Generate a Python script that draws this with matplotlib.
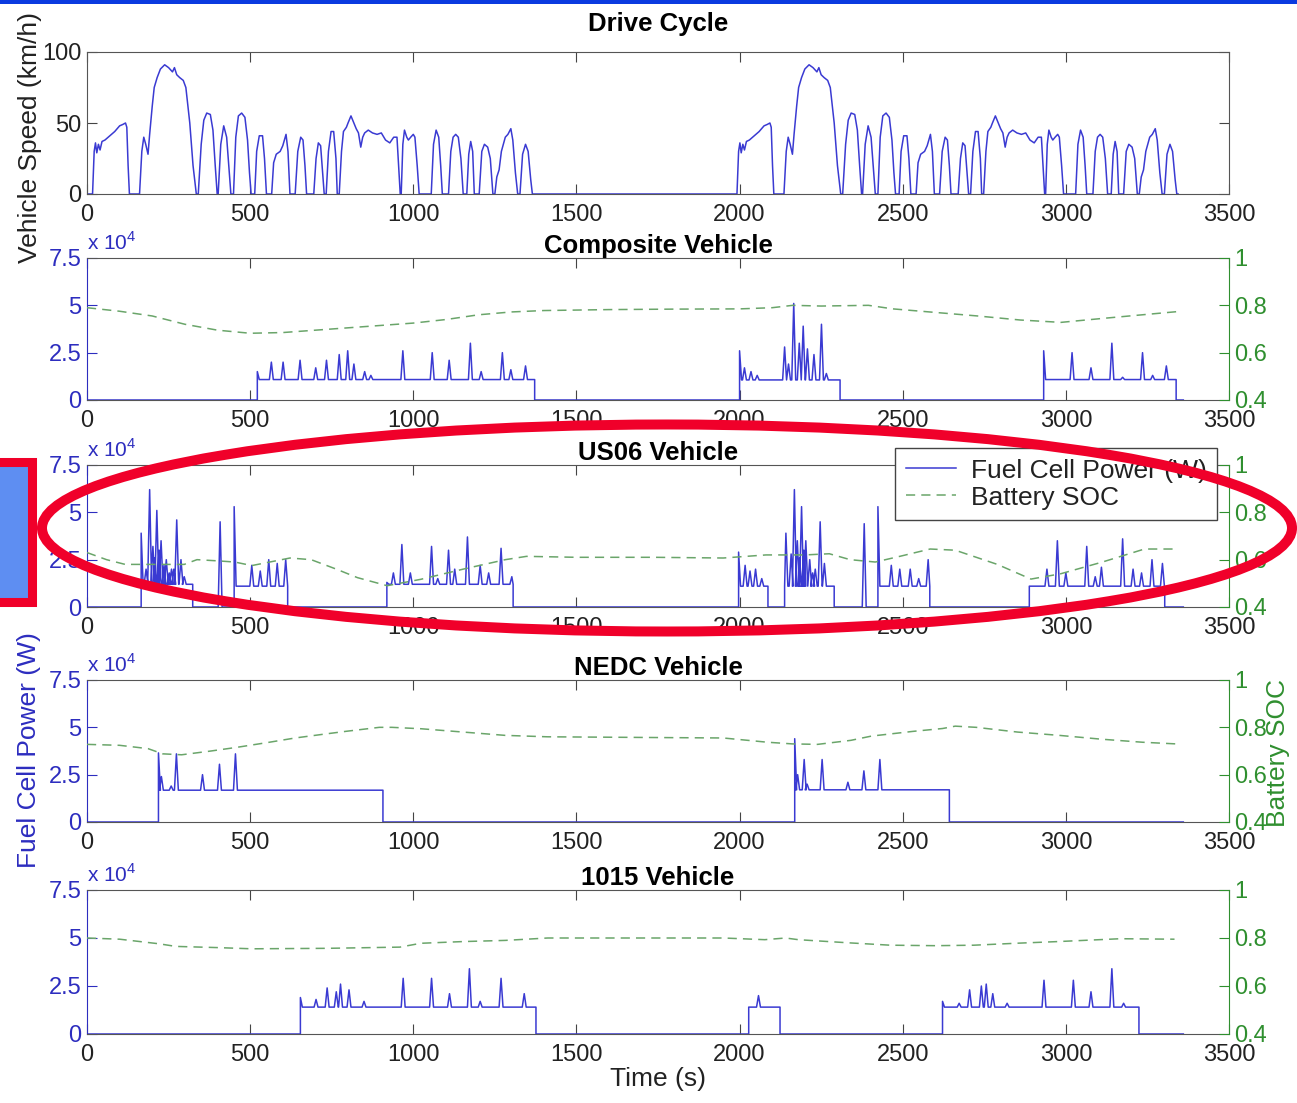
import matplotlib
matplotlib.use('Agg')
import matplotlib.pyplot as plt
from matplotlib.patches import Ellipse, Rectangle

plt.rcParams['font.family'] = ['Liberation Sans', 'DejaVu Sans']
plt.rcParams['mathtext.fontset'] = 'custom'
plt.rcParams['mathtext.rm'] = 'Liberation Sans'

# ---- drive cycle (one UDDS run, driven twice) ----
udds_t = [0, 17, 22, 26, 30, 35, 40, 46, 55, 70, 85, 100, 110, 118, 122, 126, 130,
          161, 168, 174, 180, 187, 192, 200, 206, 215, 225, 238, 250, 262, 268, 275, 284, 295, 303, 315, 325, 335,
          341, 350, 358, 367, 378, 386, 393, 399,
          402, 410, 419, 428, 436, 441,
          449, 456, 464, 474, 484, 492, 498, 503,
          514, 520, 528, 538, 544, 550,
          566, 572, 580, 592, 600, 610, 616, 622,
          638, 646, 655, 662, 668, 673,
          695, 702, 709, 716, 722, 727, 733, 740, 748, 756, 763, 767,
          773, 780, 786, 795, 800, 809, 818, 825, 832, 839, 845, 851, 862, 875, 889, 902, 915, 928, 940, 950, 955, 960,
          963, 968, 973, 980, 985, 992, 1000, 1005, 1012, 1018,
          1055, 1062, 1070, 1078, 1084, 1089,
          1108, 1115, 1122, 1130, 1138, 1146, 1153,
          1164, 1170, 1176, 1182, 1187,
          1202, 1210, 1218, 1228, 1236, 1244,
          1250, 1256, 1263, 1270, 1282, 1290, 1299, 1305, 1313, 1320,
          1327, 1335, 1344, 1352, 1360, 1365, 1369]
udds_v = [0, 0, 30, 36, 29, 35, 31, 37, 38, 41, 44, 48, 49, 50, 47, 20, 0,
          0, 30, 40, 35, 28, 42, 62, 75, 82, 88, 91, 89, 86, 89, 84, 82, 80, 75, 50, 20, 0,
          0, 35, 52, 57, 56, 45, 20, 0,
          0, 35, 48, 40, 15, 0,
          0, 40, 55, 57, 54, 38, 15, 0,
          0, 30, 41, 41, 25, 0,
          0, 22, 28, 30, 34, 42, 30, 0,
          0, 30, 40, 38, 20, 0,
          0, 25, 36, 34, 15, 0, 0, 30, 44, 44, 25, 0,
          0, 30, 44, 47, 50, 55, 50, 46, 43, 33, 40, 43, 45, 43, 42, 43, 38, 36, 40, 40, 20, 0,
          0, 35, 45, 40, 38, 40, 42, 40, 20, 0,
          0, 35, 45, 40, 20, 0,
          0, 30, 40, 42, 40, 25, 0,
          0, 28, 37, 30, 0,
          0, 30, 35, 33, 25, 0,
          0, 12, 17, 30, 40, 42, 46, 38, 15, 0,
          0, 28, 35, 30, 10, 0, 0]
second_run_start = 1975

# ---- fuel cell power (x 10^4 W): blocks (start, end, base level) and spikes (time, peak) ----
comp_blocks = [(522, 1372, 1.08), (2000, 2308, 1.06), (2932, 3338, 1.08)]
comp_spikes = [(522, 1.5), (565, 2.0), (601, 2.0), (653, 2.1), (701, 1.7), (734, 2.1), (773, 2.4),
               (799, 2.6), (818, 1.9), (851, 1.5), (870, 1.3), (968, 2.6), (1058, 2.5), (1110, 2.1),
               (1175, 3.0), (1208, 1.5), (1273, 2.5), (1299, 1.6), (1344, 1.8),
               (2000, 2.6), (2015, 1.7), (2035, 1.5), (2054, 1.3), (2138, 2.8), (2150, 1.9), (2166, 5.1),
               (2183, 3.0), (2195, 3.9), (2208, 2.7), (2228, 2.4), (2251, 4.0), (2266, 1.4),
               (2932, 2.6), (3019, 2.5), (3077, 1.7), (3141, 3.0), (3174, 1.2), (3235, 2.5), (3266, 1.3), (3308, 1.8)]

us06_blocks = [(166, 324, 1.2), (402, 414, 0.0), (451, 615, 1.1), (919, 1306, 1.2),
               (1997, 2087, 1.1), (2138, 2290, 1.1), (2376, 2388, 0.0), (2424, 2583, 1.1), (2888, 3303, 1.1)]
us06_spikes = [(166, 3.9), (181, 2.0), (192, 6.2), (202, 3.2), (208, 2.6), (214, 5.1), (221, 3.0), (227, 3.5),
               (236, 2.2), (243, 2.5), (252, 1.8), (259, 2.0), (266, 2.0), (275, 4.6), (288, 2.5), (298, 1.6),
               (408, 4.5), (451, 5.3), (505, 2.2), (531, 1.9), (557, 2.5), (583, 2.3), (609, 2.5),
               (919, 1.3), (939, 1.8), (965, 3.3), (991, 1.8), (1056, 3.2), (1075, 1.5), (1108, 3.0),
               (1127, 2.0), (1166, 3.7), (1205, 2.2), (1231, 1.8), (1269, 3.1), (1302, 1.6),
               (1997, 2.9), (2017, 2.2), (2032, 1.9), (2049, 2.0), (2068, 1.5),
               (2142, 3.9), (2158, 2.8), (2168, 6.2), (2177, 3.5), (2184, 2.6), (2190, 5.3), (2197, 3.0),
               (2203, 3.5), (2215, 2.5), (2224, 1.8), (2232, 2.0), (2247, 4.5), (2260, 2.3),
               (2382, 4.4), (2424, 5.3), (2465, 2.2), (2491, 2.0), (2523, 2.0), (2549, 1.5), (2578, 2.5),
               (2942, 2.0), (2974, 3.5), (3000, 1.8), (3064, 3.2), (3090, 1.6), (3109, 2.1), (3174, 3.6),
               (3206, 2.0), (3232, 1.8), (3264, 2.5), (3296, 2.3)]

nedc_blocks = [(219, 907, 1.68), (2169, 2643, 1.7)]
nedc_spikes = [(219, 3.65), (228, 2.4), (258, 1.9), (274, 3.6), (354, 2.5), (406, 3.05), (455, 3.6),
               (2169, 4.4), (2178, 2.5), (2198, 3.3), (2207, 2.0), (2253, 3.3), (2332, 2.1), (2381, 2.7), (2430, 3.3)]

j1015_blocks = [(654, 1376, 1.4), (2028, 2124, 1.4), (2622, 3224, 1.4)]
j1015_spikes = [(654, 1.9), (702, 1.8), (736, 2.4), (764, 2.2), (777, 2.6), (803, 2.3), (849, 1.7), (969, 2.9),
                (1056, 2.9), (1111, 2.1), (1172, 3.4), (1205, 1.7), (1269, 2.9), (1340, 2.1),
                (2058, 2.0),
                (2622, 1.7), (2673, 1.6), (2705, 2.3), (2741, 2.5), (2756, 2.6), (2776, 2.1), (2820, 1.6),
                (2933, 2.8), (3023, 2.8), (3077, 2.2), (3141, 3.4), (3177, 1.6)]

# ---- battery SOC ----
comp_soc_t = [0, 100, 200, 300, 400, 500, 600, 700, 800, 900, 1000, 1100, 1200, 1300, 1400, 1600, 1800,
              2000, 2100, 2163, 2250, 2395, 2470, 2600, 2730, 2860, 2985, 3115, 3250, 3346]
comp_soc = [0.79, 0.775, 0.755, 0.72, 0.695, 0.682, 0.685, 0.695, 0.705, 0.715, 0.725, 0.74, 0.76, 0.772,
            0.778, 0.782, 0.784, 0.785, 0.79, 0.80, 0.797, 0.80, 0.785, 0.77, 0.755, 0.738, 0.728, 0.745, 0.762, 0.774]

us06_soc_t = [0, 60, 117, 200, 298, 337, 400, 453, 505, 560, 622, 687, 764, 829, 920, 1023, 1153, 1282, 1347,
              1500, 1736, 1950, 2081, 2200, 2275, 2339, 2416, 2494, 2584, 2661, 2790, 2893, 2983, 3112, 3241, 3332]
us06_soc = [0.63, 0.60, 0.58, 0.58, 0.58, 0.60, 0.595, 0.59, 0.575, 0.59, 0.607, 0.60, 0.56, 0.524, 0.49,
            0.517, 0.56, 0.60, 0.614, 0.61, 0.61, 0.607, 0.62, 0.62, 0.625, 0.60, 0.59, 0.615, 0.645, 0.64,
            0.58, 0.518, 0.54, 0.59, 0.645, 0.645]

nedc_soc_t = [0, 100, 187, 232, 290, 380, 457, 550, 638, 720, 793, 896, 934, 1024, 1153, 1282, 1411, 1733,
              1950, 2086, 2162, 2239, 2341, 2404, 2532, 2622, 2661, 2725, 2852, 2980, 3108, 3235, 3338]
nedc_soc = [0.728, 0.724, 0.71, 0.688, 0.684, 0.70, 0.715, 0.735, 0.755, 0.77, 0.783, 0.80, 0.80, 0.794,
            0.78, 0.766, 0.76, 0.757, 0.755, 0.737, 0.73, 0.728, 0.745, 0.763, 0.783, 0.795, 0.805, 0.80,
            0.78, 0.766, 0.75, 0.737, 0.73]

j1015_soc_t = [0, 100, 220, 272, 400, 505, 738, 959, 1023, 1150, 1282, 1412, 1736, 1950, 2077, 2141, 2180,
               2333, 2462, 2600, 2718, 2846, 2974, 3167, 3333]
j1015_soc = [0.80, 0.795, 0.776, 0.765, 0.76, 0.755, 0.757, 0.762, 0.778, 0.785, 0.79, 0.80, 0.80, 0.80,
             0.793, 0.80, 0.793, 0.78, 0.77, 0.768, 0.77, 0.778, 0.785, 0.797, 0.795]

panels = [
    ('Composite Vehicle', comp_blocks, comp_spikes, comp_soc_t, comp_soc),
    ('US06 Vehicle', us06_blocks, us06_spikes, us06_soc_t, us06_soc),
    ('NEDC Vehicle', nedc_blocks, nedc_spikes, nedc_soc_t, nedc_soc),
    ('1015 Vehicle', j1015_blocks, j1015_spikes, j1015_soc_t, j1015_soc),
]

BLUE = '#3a3ad2'
TICK_BLUE = '#2d2dbf'
GREEN = '#2f8f2f'
SOC_COLOR = '#6aa56a'
FS = 17       # tick labels
LFS = 19      # axis labels / legend
TFS = 18.5    # titles

W, H = 1297, 1103
fig = plt.figure(figsize=(W / 100, H / 100), dpi=100)


def px_axes(left, top, right, bottom):
    return fig.add_axes([left / W, 1 - bottom / H, (right - left) / W, (bottom - top) / H])


def fc_trace(blocks, spikes, hw=6):
    t, p = [0], [0]
    for start, end, level in sorted(blocks):
        t += [start, start]
        p += [0, level]
        for st, peak in sorted(spikes):
            if start <= st <= end:
                t += [max(start, st - hw), st, min(end, st + hw)]
                p += [level, peak, level]
        t += [end, end]
        p += [level, 0]
    t.append(3360)
    p.append(0)
    return t, p


def style_x(ax):
    ax.set_xlim(0, 3500)
    ax.set_xticks(range(0, 3501, 500))
    ax.tick_params(axis='x', direction='in', top=True, length=7, labelsize=FS, pad=7,
                   labelcolor='#222222', color='#444444')
    for s in ('top', 'bottom'):
        ax.spines[s].set_color('#555555')


# ---- drive cycle panel ----
ax1 = px_axes(87, 52, 1229, 194)
drive_t = udds_t + [second_run_start + t for t in udds_t]
drive_v = udds_v + udds_v
ax1.plot(drive_t, drive_v, color=BLUE, lw=1.1)
style_x(ax1)
ax1.set_ylim(0, 100)
ax1.set_yticks([0, 50, 100])
ax1.tick_params(axis='y', direction='in', right=True, length=7, labelsize=FS, pad=4,
                labelcolor='#222222', color='#444444')
for s in ('left', 'right'):
    ax1.spines[s].set_color('#555555')
ax1.set_title('Drive Cycle', fontsize=TFS, fontweight='bold', pad=15)
ax1.set_ylabel('Vehicle Speed (km/h)', fontsize=LFS, color='#222222')
ax1.yaxis.set_label_coords(-0.039, 0.40)

tops = [258, 465, 680, 890]
bottoms = [400, 607, 822, 1034]
axes = []
for (title, blocks, spikes, soc_t, soc), top, bot in zip(panels, tops, bottoms):
    ax = px_axes(87, top, 1229, bot)
    tw = ax.twinx()
    t, p = fc_trace(blocks, spikes)
    l1, = ax.plot(t, p, color=BLUE, lw=1.1)
    l2, = tw.plot(soc_t, soc, color=SOC_COLOR, lw=1.1, ls=(0, (6, 4)))
    style_x(ax)
    ax.set_ylim(0, 7.5)
    ax.set_yticks([0, 2.5, 5, 7.5])
    ax.set_yticklabels(['0', '2.5', '5', '7.5'])
    ax.tick_params(axis='y', direction='in', length=7, labelsize=FS, pad=4, colors=TICK_BLUE)
    ax.spines['left'].set_color(TICK_BLUE)
    ax.spines['right'].set_visible(False)
    tw.set_ylim(0.4, 1)
    tw.set_yticks([0.4, 0.6, 0.8, 1])
    tw.set_yticklabels(['0.4', '0.6', '0.8', '1'])
    tw.tick_params(axis='y', direction='in', length=7, labelsize=FS, pad=4, colors=GREEN)
    tw.spines['right'].set_color(GREEN)
    for s in ('left', 'top', 'bottom'):
        tw.spines[s].set_visible(False)
    ax.text(0.0, 1.03, r'x 10$^4$', transform=ax.transAxes, color=TICK_BLUE, fontsize=15,
            ha='left', va='bottom')
    ax.set_title(title, fontsize=TFS, fontweight='bold', pad=3)
    axes.append((ax, tw, l1, l2))

ax_us, tw_us, l1, l2 = axes[1]
tw_us.legend([l1, l2], ['Fuel Cell Power (W)', 'Battery SOC'], loc='upper right',
             bbox_to_anchor=(0.9895, 1.12), fancybox=False, edgecolor='#444444', framealpha=1,
             fontsize=LFS, handlelength=1.9, handletextpad=0.55, borderpad=0.4,
             labelspacing=0.12, borderaxespad=0, labelcolor='#222222')

ax_ne, tw_ne = axes[2][0], axes[2][1]
ax_ne.set_ylabel('Fuel Cell Power (W)', fontsize=LFS, color=TICK_BLUE)
ax_ne.yaxis.set_label_coords(-0.04, 0.507)
tw_ne.set_ylabel('Battery SOC', fontsize=LFS, color=GREEN, rotation=90)
tw_ne.yaxis.set_label_coords(1.032, 0.486)

ax_j = axes[3][0]
ax_j.set_xlabel('Time (s)', fontsize=LFS, color='#222222', labelpad=1)

# ---- slide decorations ----
fig.add_artist(Rectangle((0, 1 - 4 / H), 1, 4 / H, transform=fig.transFigure,
                         facecolor='#0a3ae0', edgecolor='none', zorder=10))
fig.add_artist(Rectangle((-10 / W, 1 - 602 / H), 42 / W, 140 / H, transform=fig.transFigure,
                         facecolor='#5e8ef2', edgecolor='#f0002a', lw=6.5, zorder=10))
fig.add_artist(Ellipse((667 / W, 1 - 528 / H), 1250 / W, 207 / H, transform=fig.transFigure,
                       facecolor='none', edgecolor='#f0002a', lw=7.2, zorder=11))

fig.savefig('out.png', dpi=100)
